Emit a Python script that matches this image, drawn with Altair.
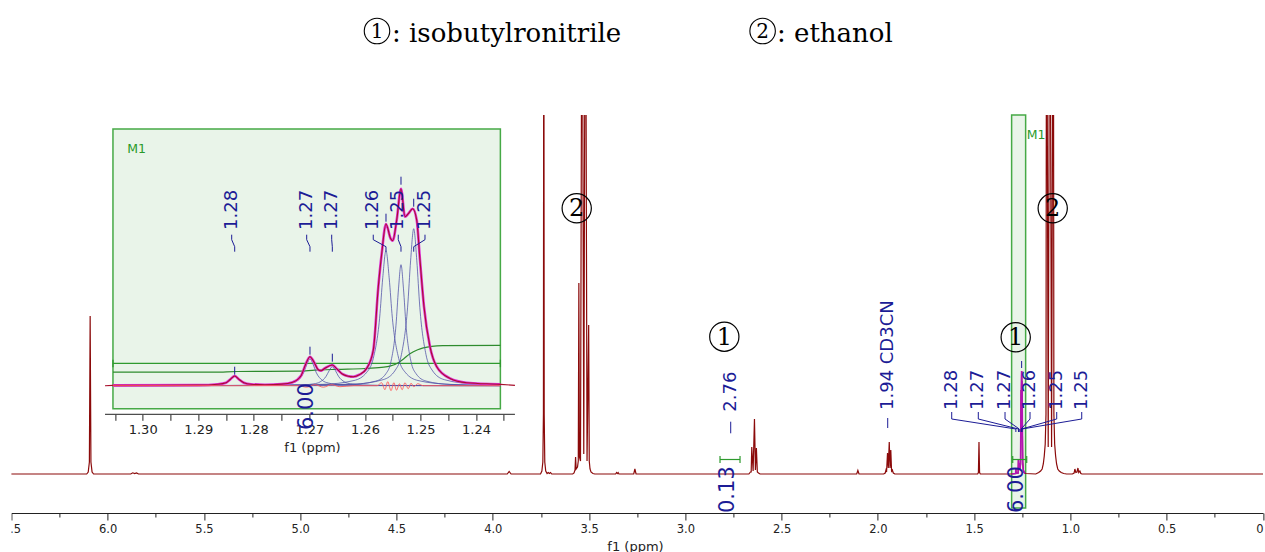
import altair as alt
import pandas as pd

# ---------------- 1H NMR trace (ppm, intensity), grouped by region ----------------
region_609 = [(6.520, 0), (6.109, 0), (6.101, 2), (6.095, 12), (6.091, 158), (6.087, 12),
              (6.081, 2), (6.073, 0), (5.880, 0), (5.870, 1.2), (5.860, 0.4), (5.850, 1), (5.840, 0)]
region_374 = [(3.925, 0), (3.915, 2.5), (3.905, 0), (3.752, 0), (3.745, 3), (3.740, 12),
              (3.737, 60), (3.735, 620), (3.733, 60), (3.730, 12), (3.725, 3), (3.718, 0.5),
              (3.712, 1.5), (3.706, 0.5), (3.700, 1.5), (3.694, 0)]
region_353 = [(3.585, 0), (3.578, 1), (3.573, 4), (3.570, 17), (3.567, 5), (3.560, 7),
              (3.556, 13), (3.553, 191), (3.550, 17), (3.5445, 13), (3.536, 620),
              (3.5275, 20), (3.519, 620), (3.5105, 13), (3.502, 149), (3.499, 13),
              (3.495, 5), (3.490, 2), (3.480, 0.5), (3.470, 0)]
region_330 = [(3.362, 0), (3.357, 1.5), (3.353, 0.5), (3.349, 1.5), (3.345, 0),
              (3.268, 0), (3.262, 5), (3.256, 0)]
region_264 = [(2.670, 0), (2.662, 2), (2.658, 2), (2.655, 27), (2.648, 3), (2.641, 55),
              (2.636, 4), (2.631, 26), (2.626, 2), (2.620, 1), (2.612, 0)]
region_194 = [(2.110, 0), (2.104, 3.5), (2.098, 0), (1.970, 0), (1.962, 1), (1.958, 4),
              (1.955, 2), (1.950, 21), (1.946, 6), (1.941, 32), (1.937, 6), (1.933, 24),
              (1.929, 3), (1.925, 4), (1.920, 1), (1.912, 0)]
region_147 = [(1.482, 0), (1.478, 1.5), (1.475, 32), (1.472, 1.5), (1.468, 0)]
region_126 = [(1.310, 0), (1.2845, 0.5), (1.2837, 5), (1.2825, 0.8), (1.2715, 1),
              (1.2700, 15), (1.2680, 8), (1.2660, 11), (1.2625, 5), (1.2590, 10),
              (1.2563, 84), (1.2552, 76), (1.2536, 103), (1.2524, 90), (1.2513, 93),
              (1.2495, 41), (1.2480, 12), (1.2450, 4), (1.2400, 1.5), (1.2330, 0.5)]
region_111 = [(1.180, 0), (1.165, 1.5), (1.155, 3), (1.147, 5), (1.141, 10), (1.136, 18),
              (1.131, 30), (1.127, 60), (1.124, 620), (1.1155, 27), (1.107, 620),
              (1.098, 27), (1.089, 620), (1.086, 60), (1.082, 30), (1.077, 18),
              (1.072, 10), (1.066, 5), (1.058, 3), (1.048, 1.5), (1.035, 0.5), (1.020, 0)]
region_096 = [(0.990, 0), (0.981, 1), (0.977, 5), (0.972, 1.5), (0.966, 2), (0.961, 6),
              (0.957, 1.5), (0.951, 3), (0.946, 0.5), (0.940, 0), (0.000, 0)]

# fitted envelope of the 1.25 ppm multiplet on the full-range trace
main_fit = [(1.3055, 0), (1.2845, 0.5), (1.2837, 5), (1.2825, 0.8), (1.2715, 1),
            (1.2700, 15), (1.2680, 8), (1.2660, 11), (1.2625, 5), (1.2590, 10),
            (1.2563, 84), (1.2552, 76), (1.2536, 103), (1.2524, 90), (1.2513, 93),
            (1.2495, 41), (1.2480, 12), (1.2450, 4), (1.2400, 1.5), (1.2363, 0.5)]

# peak picking of the multiplet (inset) and where the labels sit
mult_peaks = [1.28344, 1.26989, 1.26587, 1.25621, 1.25351, 1.25122]
mult_texts = ["1.28", "1.27", "1.27", "1.26", "1.25", "1.25"]
mult_label_main = [1.6166, 1.4785, 1.3398, 1.2099, 1.0713, 0.9414]
mult_label_inset = [1.28398, 1.27048, 1.26598, 1.25850, 1.25400, 1.24919]
mult_marker_low = [11, 31, 24, 164, 201, 179]

# single peak labels on the full trace
single_texts = ["2.76", "1.94 CD3CN"]
single_ppm = [2.7644, 1.949]

# integrals
integral_texts = ["0.13", "6.00"]
integral_ppm = [2.7768, 1.2774]
integral_from = [2.8199, 1.2998]
integral_to = [2.716, 1.2271]
inset_integral_ppm = 1.27048

# M1 region
m1_from, m1_to = 1.3055, 1.2327

# ---------------- inset (deconvolution of the 1.25 ppm multiplet) ----------------
inset_fit = [(1.30535, 0.3), (1.2900, 0.6), (1.2865, 1.5), (1.2850, 3), (1.2842, 6.5),
             (1.28344, 9.7), (1.2827, 6.5), (1.2818, 3), (1.2805, 1.5), (1.2780, 1.0),
             (1.2750, 1.6), (1.2730, 3.5), (1.2715, 10), (1.2707, 21), (1.26989, 29),
             (1.2692, 24), (1.2684, 16), (1.2679, 15), (1.2672, 17.5), (1.26587, 20.7),
             (1.2650, 16.5), (1.2640, 11.5), (1.2630, 9.5), (1.26209, 9), (1.2610, 11),
             (1.25968, 17.3), (1.25849, 35.7), (1.25759, 99), (1.25698, 132),
             (1.25621, 161.7), (1.25536, 147), (1.2550, 145), (1.25428, 165.7),
             (1.25351, 197), (1.25279, 169), (1.25219, 172), (1.2514, 177),
             (1.25068, 165.7), (1.25009, 125.7), (1.24937, 79), (1.24829, 39),
             (1.24708, 19), (1.24469, 7.3), (1.24168, 3), (1.23562, 1.3)]
inset_data_edges = [(1.30678, 0), (1.2330, 0.3)]

comp_128 = [(1.30535, 0), (1.29444, 0.1), (1.28894, 0.37), (1.28674, 1.0), (1.28564, 1.9),
            (1.28454, 4.85), (1.28399, 7.8), (1.28344, 9.7), (1.28289, 7.8), (1.28234, 4.85),
            (1.28124, 1.9), (1.28014, 1.0), (1.27794, 0.37), (1.27244, 0.1), (1.23562, 0)]
comp_127a = [(1.30535, 0), (1.28089, 0.27), (1.27539, 1.04), (1.27319, 2.7), (1.27209, 5.4),
             (1.27099, 13.5), (1.27044, 21.6), (1.26989, 27), (1.26934, 21.6), (1.26879, 13.5),
             (1.26769, 5.4), (1.26659, 2.7), (1.26439, 1.04), (1.25889, 0.27), (1.23562, 0)]
comp_127b = [(1.30535, 0), (1.27687, 0.19), (1.27137, 0.73), (1.26917, 1.9), (1.26807, 3.8),
             (1.26697, 9.5), (1.26642, 15.2), (1.26587, 19), (1.26532, 15.2), (1.26477, 9.5),
             (1.26367, 3.8), (1.26257, 1.9), (1.26037, 0.73), (1.25487, 0.19), (1.23562, 0)]
comp_126 = [(1.30535, 0), (1.28496, 0.22), (1.26771, 1.34), (1.26196, 5.2), (1.25966, 13.5),
            (1.25851, 27), (1.25736, 67.5), (1.25679, 108), (1.25621, 135), (1.25564, 108),
            (1.25506, 67.5), (1.25391, 27), (1.25276, 13.5), (1.25046, 5.2), (1.24471, 1.34),
            (1.23562, 0.2)]
comp_125a = [(1.30535, 0), (1.27601, 0.19), (1.26251, 1.2), (1.25801, 4.65), (1.25621, 12.1),
             (1.25531, 24.2), (1.25441, 60.5), (1.25396, 96.8), (1.25351, 121), (1.25306, 96.8),
             (1.25261, 60.5), (1.25171, 24.2), (1.25081, 12.1), (1.24901, 4.65), (1.24451, 1.2),
             (1.23562, 0.1)]
comp_125b = [(1.30535, 0), (1.27872, 0.25), (1.26222, 1.55), (1.25672, 6.04), (1.25452, 15.7),
             (1.25342, 31.4), (1.25232, 78.5), (1.25177, 125.6), (1.25122, 157), (1.25067, 125.6),
             (1.25012, 78.5), (1.24902, 31.4), (1.24792, 15.7), (1.24572, 6.04), (1.24022, 1.55),
             (1.23562, 0.3)]

residual = [(1.30535, 0), (1.2720, 0), (1.2705, -1.5), (1.2690, 1), (1.2675, -1.5),
            (1.2660, 1), (1.2645, -1), (1.2620, 0), (1.2578, 0), (1.2570, 3), (1.2564, -4),
            (1.2559, 4), (1.2553, -5), (1.2548, 3), (1.2543, -4.5), (1.2538, 2),
            (1.2533, -4), (1.2528, 3), (1.2522, -3), (1.2517, 2.5), (1.2512, -1),
            (1.2505, 2), (1.2495, 0), (1.23562, 0)]

integral_curve = [(1.30535, 13.5), (1.2870, 13.6), (1.2830, 14.2), (1.2720, 14.5),
                  (1.2690, 15.6), (1.2650, 16.4), (1.2600, 17.2), (1.2570, 18.4),
                  (1.2555, 19.5), (1.2540, 23), (1.2530, 27), (1.2519, 32), (1.2505, 36),
                  (1.2495, 37.8), (1.2480, 39.4), (1.2460, 40.1), (1.23562, 40.3)]

inset_box = (1.30535, 1.23562)
inset_axis_span = (1.30678, 1.2330)

main_ticks = [0.0, 0.25, 0.5, 0.75, 1.0, 1.25, 1.5, 1.75, 2.0, 2.25, 2.5, 2.75, 3.0, 3.25,
              3.5, 3.75, 4.0, 4.25, 4.5, 4.75, 5.0, 5.25, 5.5, 5.75, 6.0, 6.25, 6.5]
inset_ticks = [1.235, 1.24, 1.245, 1.25, 1.255, 1.26, 1.265, 1.27, 1.275, 1.28, 1.285,
               1.29, 1.295, 1.3, 1.305]

# ---------------- styling ----------------
W, H = 1251.6, 398
SPEC = "#8b0a0a"
NAVY = "#1c1c96"
GREEN = "#46a946"
GREEN_FILL = "#e9f4e9"
FONT = "DejaVu Sans"
SERIF = "DejaVu Serif"


def pairs(rows, cols=("ppm", "v")):
    return pd.DataFrame(rows, columns=list(cols))


main_x = alt.Scale(domain=[0, 6.5], reverse=True, nice=False, zero=False)
main_y = alt.Scale(domain=[-39, 359], nice=False, zero=False)
inset_x = alt.Scale(domain=[1.09836, 1.32363], reverse=True, nice=False, zero=False)
inset_y = alt.Scale(domain=[-127.3, 270.7], nice=False, zero=False)

main_axis = alt.Axis(
    orient="bottom", values=main_ticks, grid=False,
    labelExpr="datum.value === 0 ? '0' : (datum.value % 0.5 === 0 ? format(datum.value, '.1f') : '')",
    tickSize={"condition": {"test": "datum.value % 0.5 === 0", "value": 7}, "value": 4},
    labelAlign={"condition": {"test": "datum.value === 0", "value": "right"}, "value": "center"},
    labelFont=FONT, labelFontSize=11.5, labelColor="#222", labelPadding=3,
    tickColor="#222", domainColor="#222",
    title="f1 (ppm)", titleFont=FONT, titleFontSize=13, titleFontWeight="normal",
    titleColor="#222", titleX=623.6, titleY=33, titleBaseline="middle", titleAlign="center",
)
inset_axis = alt.Axis(
    orient="bottom", offset=-98.7, values=inset_ticks, grid=False, domain=False,
    labelExpr="abs(datum.value * 100 - round(datum.value * 100)) < 0.001 ? format(datum.value, '.2f') : ''",
    tickSize=6, labelFont=FONT, labelFontSize=13, labelColor="#222", labelPadding=3,
    tickColor="#222",
    title="f1 (ppm)", titleFont=FONT, titleFontSize=13, titleFontWeight="normal",
    titleColor="#222", titleX=300.6, titleY=33, titleBaseline="middle", titleAlign="center",
)


def mx(field="ppm"):
    return alt.X(f"{field}:Q", scale=main_x, axis=main_axis)


def my(field="v"):
    return alt.Y(f"{field}:Q", scale=main_y, axis=None)


def ix(field="ppm"):
    return alt.X(f"{field}:Q", scale=inset_x, axis=inset_axis)


def iy(field="v"):
    return alt.Y(f"{field}:Q", scale=inset_y, axis=None)


# ---------------- full-range spectrum ----------------
trace = (region_609 + region_374 + region_353 + region_330 + region_264 + region_194
         + region_147 + region_126 + region_111 + region_096)

m1_strip = alt.Chart(pd.DataFrame({"ppm": [m1_from], "ppm2": [m1_to], "v": [359], "v2": [-34]})).mark_rect(
    fill=GREEN_FILL, stroke=GREEN, strokeWidth=1.5
).encode(x=mx(), x2="ppm2:Q", y=my(), y2="v2:Q")

m1_label = alt.Chart(pd.DataFrame({"ppm": [1.2271], "v": [339], "t": ["M1"]})).mark_text(
    align="left", baseline="middle", font=FONT, fontSize=12.5, color="#2a9a2a"
).encode(x=mx(), y=my(), text="t:N")

spectrum = alt.Chart(pairs(trace)).mark_line(
    color=SPEC, strokeWidth=1.2, clip=True
).encode(x=mx(), y=my())

fit_main_line = alt.Chart(pairs(main_fit)).mark_line(
    color="#b414b4", strokeWidth=1.6, clip=True
).encode(x=mx(), y=my())

# the page is cut at the left end of the axis: mask what lies beyond 6.5 ppm
edge_mask = alt.Chart(pd.DataFrame({"ppm": [6.5], "ppm2": [6.62], "v": [-39.5], "v2": [-70]})).mark_rect(
    fill="white", stroke=None
).encode(x=mx(), x2="ppm2:Q", y=my(), y2="v2:Q")

# short dashes under the single peak labels, and the marker on the multiplet top
dash_df = pd.DataFrame({"ppm": single_ppm + [1.25351], "v": [40.7, 46, 106], "v2": [52.3, 56, 113]})
dashes = alt.Chart(dash_df).mark_rule(color=NAVY, strokeWidth=1).encode(x=mx(), y=my(), y2="v2:Q")

single_labels = alt.Chart(pd.DataFrame({"ppm": single_ppm, "v": [62.3, 64], "t": single_texts})).mark_text(
    angle=270, align="left", baseline="middle", font=FONT, fontSize=18, color=NAVY
).encode(x=mx(), y=my(), text="t:N")

mult_labels_main = alt.Chart(pd.DataFrame({"ppm": mult_label_main, "v": [64] * 6, "t": mult_texts})).mark_text(
    angle=270, align="left", baseline="middle", font=FONT, fontSize=18, color=NAVY
).encode(x=mx(), y=my(), text="t:N")

conn_rows = []
for i, (lab, pk) in enumerate(zip(mult_label_main, mult_peaks)):
    conn_rows += [(i, 0, lab, 62), (i, 1, lab, 55), (i, 2, pk, 45), (i, 3, pk, 42)]
conn_main = alt.Chart(pd.DataFrame(conn_rows, columns=["g", "k", "ppm", "v"])).mark_line(
    color=NAVY, strokeWidth=1
).encode(x=mx(), y=my(), detail="g:N", order="k:Q")

integral_labels = alt.Chart(pd.DataFrame({"ppm": integral_ppm, "v": [-39, -39], "t": integral_texts})).mark_text(
    angle=270, align="left", baseline="middle", font=FONT, fontSize=21, color=NAVY
).encode(x=mx(), y=my(), text="t:N")

brk_rows = []
for a, b in zip(integral_from, integral_to):
    brk_rows += [(a, b, 14.5, 14.5), (a, a, 11, 18), (b, b, 11, 18)]
brackets = alt.Chart(pd.DataFrame(brk_rows, columns=["ppm", "ppm2", "v", "v2"])).mark_rule(
    color="#2e9a2e", strokeWidth=1.2
).encode(x=mx(), x2="ppm2:Q", y=my(), y2="v2:Q")

# compound markers: circled numbers on the spectrum and in the legend line
marks_df = pd.DataFrame({"ppm": [3.5641, 2.7976, 1.2843, 1.0921],
                         "v": [265.7, 137.3, 136.7, 265.7], "t": ["2", "1", "1", "2"]})
circles = alt.Chart(marks_df).mark_point(
    shape="circle", filled=False, color="black", strokeWidth=1.2, size=855, opacity=1
).encode(x=mx(), y=my())
digits = alt.Chart(marks_df).mark_text(
    font=SERIF, fontSize=24, baseline="middle", align="center", color="black", dy=1
).encode(x=mx(), y=my(), text="t:N")

legend_df = pd.DataFrame({"ppm": [4.6013, 2.5987], "v": [443, 443], "t": ["1", "2"]})
legend_circles = alt.Chart(legend_df).mark_point(
    shape="circle", filled=False, color="black", strokeWidth=1.1, size=650, opacity=1
).encode(x=mx(), y=my())
legend_digits = alt.Chart(legend_df).mark_text(
    font=SERIF, fontSize=20, baseline="middle", align="center", color="black", dy=1
).encode(x=mx(), y=my(), text="t:N")
legend_text = alt.Chart(pd.DataFrame({"ppm": [4.5234, 2.5239], "v": [432, 432],
                                      "t": [": isobutylronitrile", ": ethanol"]})).mark_text(
    font=SERIF, fontSize=26, baseline="alphabetic", align="left", color="black"
).encode(x=mx(), y=my(), text="t:N")

main_layer = alt.layer(
    m1_strip, spectrum, fit_main_line, m1_label, brackets, dashes, conn_main,
    single_labels, mult_labels_main, integral_labels, circles, digits,
    legend_circles, legend_digits, legend_text, edge_mask,
)

# ---------------- inset ----------------
box = alt.Chart(pd.DataFrame({"ppm": [inset_box[0]], "ppm2": [inset_box[1]], "v": [256.7], "v2": [-23]})).mark_rect(
    fill=GREEN_FILL, stroke=GREEN, strokeWidth=1.5
).encode(x=ix(), x2="ppm2:Q", y=iy(), y2="v2:Q")

box_label = alt.Chart(pd.DataFrame({"ppm": [1.30277], "v": [236.4], "t": ["M1"]})).mark_text(
    align="left", baseline="middle", font=FONT, fontSize=12.5, color="#2a9a2a"
).encode(x=ix(), y=iy(), text="t:N")

inset_axis_line = alt.Chart(pd.DataFrame({"ppm": [inset_axis_span[0]], "ppm2": [inset_axis_span[1]], "v": [-28.6]})).mark_rule(
    color="#222", strokeWidth=1
).encode(x=ix(), x2="ppm2:Q", y=iy())

ibr_rows = [(inset_box[0], inset_box[1], 22.4, 22.4), (inset_box[0], inset_box[0], 18.5, 26),
            (inset_box[1], inset_box[1], 18.5, 26)]
inset_bracket = alt.Chart(pd.DataFrame(ibr_rows, columns=["ppm", "ppm2", "v", "v2"])).mark_rule(
    color="#2e9a2e", strokeWidth=1.3
).encode(x=ix(), x2="ppm2:Q", y=iy(), y2="v2:Q")

integral_line = alt.Chart(pairs(integral_curve)).mark_line(
    color="#2e8b2e", strokeWidth=1.2, interpolate="monotone"
).encode(x=ix(), y=iy())

comp_frames = []
for name, rows in [("c1", comp_128), ("c2", comp_127a), ("c3", comp_127b),
                   ("c4", comp_126), ("c5", comp_125a), ("c6", comp_125b)]:
    f = pairs(rows)
    f["c"] = name
    comp_frames.append(f)
components = alt.Chart(pd.concat(comp_frames)).mark_line(
    color="#4d4da6", strokeWidth=1, opacity=0.75, interpolate="monotone"
).encode(x=ix(), y=iy(), detail="c:N")

fit_line = alt.Chart(pairs(inset_fit)).mark_line(
    color="#e030d8", strokeWidth=2.6, interpolate="monotone"
).encode(x=ix(), y=iy())

data_line = alt.Chart(pairs([inset_data_edges[0]] + inset_fit + [inset_data_edges[1]])).mark_line(
    color="#a8102c", strokeWidth=1.1, interpolate="monotone"
).encode(x=ix(), y=iy())

residual_line = alt.Chart(pairs(residual)).mark_line(
    color="#ff5c5c", strokeWidth=0.9, interpolate="monotone"
).encode(x=ix(), y=iy())

imark_df = pd.DataFrame({"ppm": mult_peaks, "v": mult_marker_low, "v2": [m + 8 for m in mult_marker_low]})
inset_markers = alt.Chart(imark_df).mark_rule(color=NAVY, strokeWidth=1).encode(x=ix(), y=iy(), y2="v2:Q")

iconn_rows = []
for i, (lab, pk) in enumerate(zip(mult_label_inset, mult_peaks)):
    iconn_rows += [(i, 0, pk, 134), (i, 1, pk, 139), (i, 2, lab, 146), (i, 3, lab, 151)]
inset_conn = alt.Chart(pd.DataFrame(iconn_rows, columns=["g", "k", "ppm", "v"])).mark_line(
    color=NAVY, strokeWidth=1
).encode(x=ix(), y=iy(), detail="g:N", order="k:Q")

inset_labels = alt.Chart(pd.DataFrame({"ppm": mult_label_inset, "v": [155.7] * 6, "t": mult_texts})).mark_text(
    angle=270, align="left", baseline="middle", font=FONT, fontSize=18, color=NAVY
).encode(x=ix(), y=iy(), text="t:N")

inset_integral_label = alt.Chart(pd.DataFrame({"ppm": [inset_integral_ppm], "v": [-44.3], "t": ["6.00"]})).mark_text(
    angle=270, align="left", baseline="middle", font=FONT, fontSize=21, color=NAVY
).encode(x=ix(), y=iy(), text="t:N")

inset_layer = alt.layer(
    box, box_label, inset_axis_line, inset_bracket, integral_line, components,
    fit_line, data_line, residual_line, inset_markers, inset_conn, inset_labels,
    inset_integral_label,
)

chart = alt.layer(main_layer, inset_layer).resolve_scale(
    x="independent", y="independent"
).properties(
    width=W, height=H,
    padding={"left": 11.4, "top": 115, "right": 2, "bottom": 39},
    autosize=alt.AutoSizeParams(type="none"),
    background="white",
).configure_view(stroke=None)

chart.save("out.html", embed_options={"renderer": "svg", "actions": False})
